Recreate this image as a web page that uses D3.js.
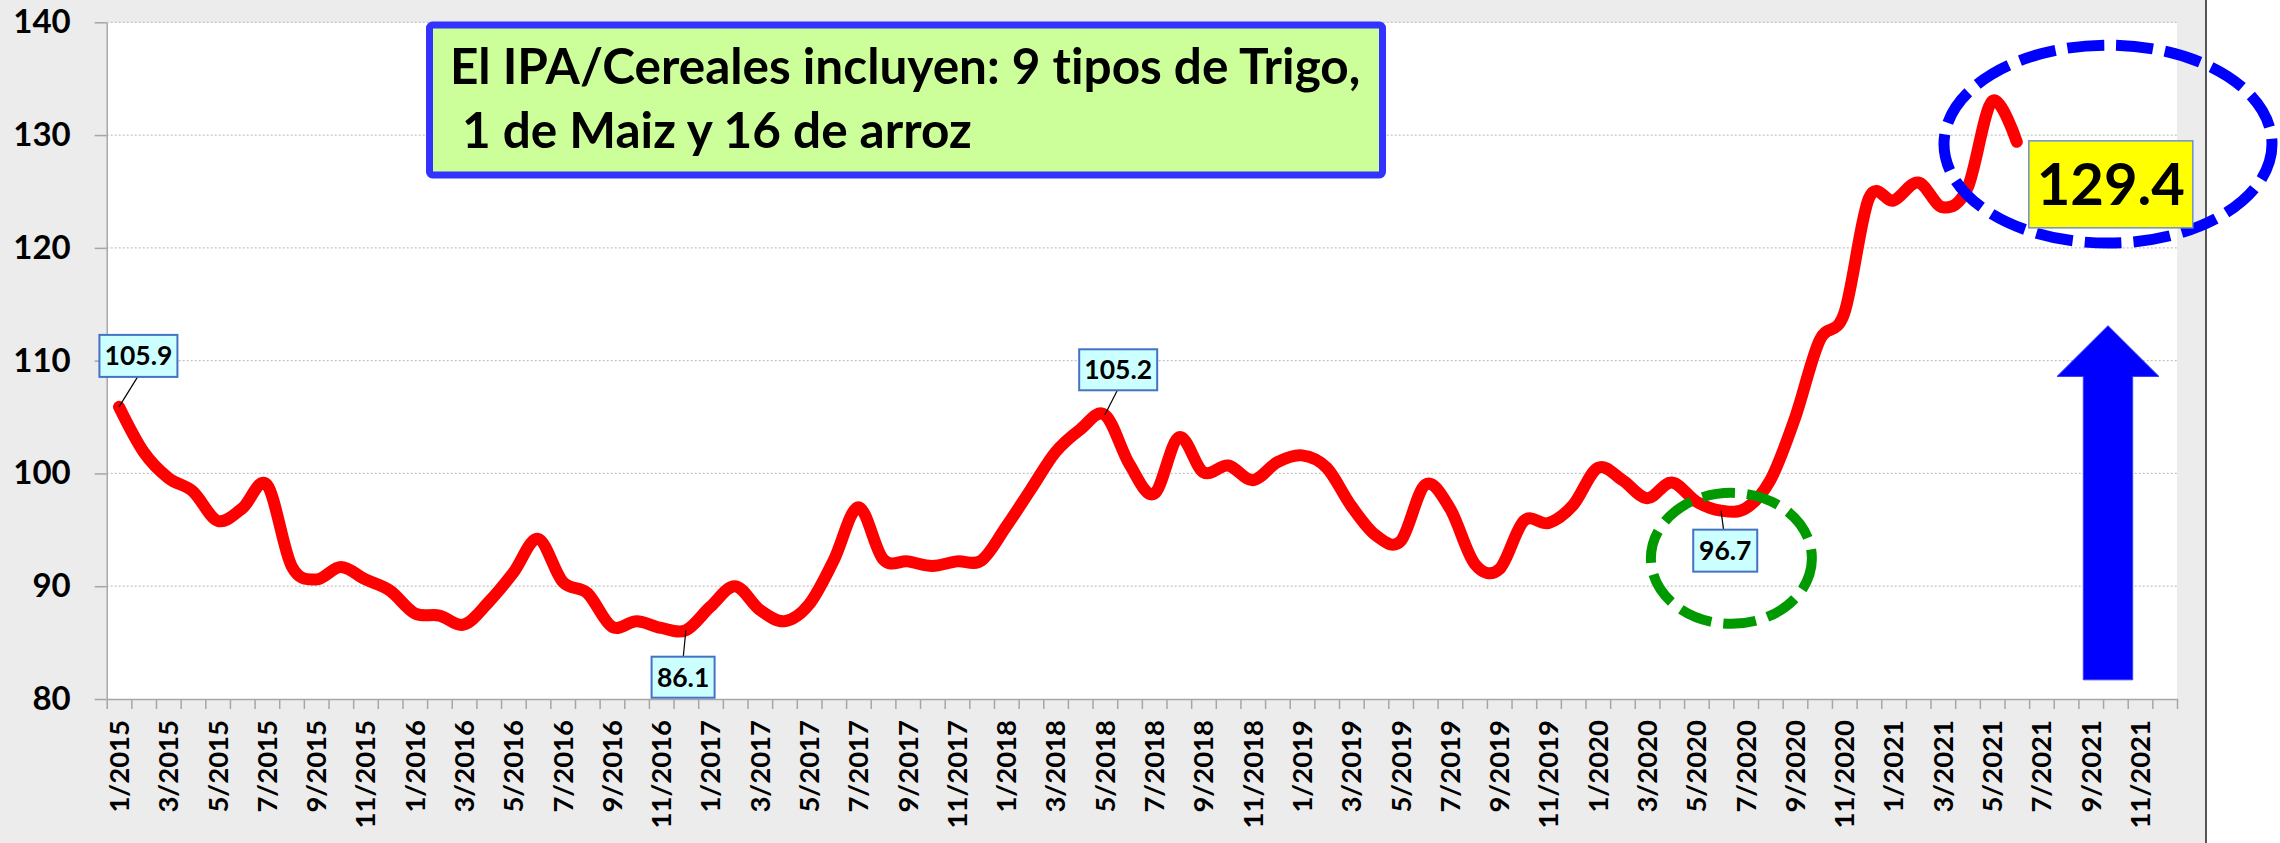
<!DOCTYPE html>
<html lang="es">
<head>
<meta charset="UTF-8">
<title>IPA Cereales</title>
<script src="https://d3js.org/d3.v7.min.js"></script>
<style>
    body {
        margin: 0;
        background: #fff;
    }
    svg {
        display: block;
        font-family: Lato, "Open Sans", sans-serif;
        font-weight: bold;
        font-variant-ligatures: none;
    }
</style>
</head>
<body>
<svg width="2280" height="843"></svg>
<script>
// categories: one per month, 1/2015 .. 12/2021
const months = [
    "1/2015","2/2015","3/2015","4/2015","5/2015","6/2015","7/2015","8/2015","9/2015","10/2015","11/2015","12/2015",
    "1/2016","2/2016","3/2016","4/2016","5/2016","6/2016","7/2016","8/2016","9/2016","10/2016","11/2016","12/2016",
    "1/2017","2/2017","3/2017","4/2017","5/2017","6/2017","7/2017","8/2017","9/2017","10/2017","11/2017","12/2017",
    "1/2018","2/2018","3/2018","4/2018","5/2018","6/2018","7/2018","8/2018","9/2018","10/2018","11/2018","12/2018",
    "1/2019","2/2019","3/2019","4/2019","5/2019","6/2019","7/2019","8/2019","9/2019","10/2019","11/2019","12/2019",
    "1/2020","2/2020","3/2020","4/2020","5/2020","6/2020","7/2020","8/2020","9/2020","10/2020","11/2020","12/2020",
    "1/2021","2/2021","3/2021","4/2021","5/2021","6/2021","7/2021","8/2021","9/2021","10/2021","11/2021","12/2021"
];

// IPA / Cereales, monthly, 1/2015 .. 6/2021
const ipaCereales = [
    105.9, 101.9, 99.6, 98.4, 95.8, 96.9, 99.0, 91.8, 90.6, 91.7, 90.6, 89.6,
    87.6, 87.4, 86.6, 88.6, 91.2, 94.2, 90.4, 89.4, 86.4, 86.9, 86.3, 86.1,
    88.2, 90.0, 87.9, 86.9, 88.4, 92.3, 97.0, 92.4, 92.2, 91.8, 92.2, 92.3,
    95.3, 98.6, 101.9, 103.9, 105.2, 100.8, 98.2, 103.2, 100.1, 100.7, 99.4, 101.0,
    101.6, 100.5, 97.1, 94.5, 94.0, 99.0, 96.9, 92.0, 91.5, 95.8, 95.6, 97.2,
    100.5, 99.4, 97.8, 99.2, 97.5, 96.7, 96.9, 99.4, 104.9, 111.8, 114.2, 124.4,
    124.2, 125.8, 123.6, 125.3, 133.0, 129.4
];

const yTicks = [80, 90, 100, 110, 120, 130, 140];
const tickLabels = months.filter((d, i) => i % 2 === 0);

// months that get a small value callout
const calloutMonths = ["1/2015", "12/2016", "5/2018", "6/2020"];
const lastMonth = "6/2021";

const titleLines = ["El IPA/Cereales incluyen: 9 tipos de Trigo,", " 1 de Maiz y 16 de arroz"];

const svg = d3.select("svg"),
    width = +svg.attr("width"),
    height = +svg.attr("height");

const plot = { left: 106.7, right: 2177, top: 22.3, bottom: 699 };

// page background like the Excel chart area
svg.append("rect")
    .attr("width", 2205).attr("height", height)
    .attr("fill", "#ececec");
svg.append("line")
    .attr("x1", 2206).attr("x2", 2206)
    .attr("y1", 0).attr("y2", height)
    .attr("stroke", "#555").attr("stroke-width", 2);
svg.append("rect")
    .attr("x", plot.left).attr("y", plot.top)
    .attr("width", plot.right - plot.left).attr("height", plot.bottom - plot.top)
    .attr("fill", "#fff");

const y = d3.scaleLinear().domain([80, 140]).range([plot.bottom, plot.top]);
const xBand = d3.scaleBand().domain(months).range([plot.left, plot.right]);
const xIdx = d3.scaleLinear().domain([0, months.length]).range([plot.left, plot.right]);
const xc = m => xBand(m) + xBand.bandwidth() / 2;

// gridlines
svg.append("g")
    .selectAll("line")
    .data(yTicks.filter(d => d > 80))
    .join("line")
    .attr("x1", plot.left).attr("x2", plot.right)
    .attr("y1", d => y(d)).attr("y2", d => y(d))
    .attr("stroke", "#c4c4c4")
    .attr("stroke-width", 1.2)
    .attr("stroke-dasharray", "2,2");

// y axis
const gy = svg.append("g")
    .attr("transform", `translate(${plot.left},0)`)
    .call(d3.axisLeft(y).tickValues(yTicks).tickSize(12).tickPadding(24).tickSizeOuter(0));
gy.select(".domain").attr("stroke", "#a6a6a6").attr("stroke-width", 1.5);
gy.selectAll(".tick line").attr("stroke", "#a6a6a6").attr("stroke-width", 1.5);
gy.selectAll("text")
    .attr("font-size", 33)
    .attr("font-family", "Lato, sans-serif")
    .attr("font-weight", "bold")
    .attr("fill", "#000");

// x axis tick marks between categories
const gxt = svg.append("g")
    .attr("transform", `translate(0,${plot.bottom})`)
    .call(d3.axisBottom(xIdx).tickValues(d3.range(months.length + 1)).tickFormat("").tickSize(10).tickSizeOuter(0));
gxt.select(".domain").attr("stroke", "#a6a6a6").attr("stroke-width", 1.5);
gxt.selectAll(".tick line").attr("stroke", "#a6a6a6").attr("stroke-width", 1.5);

// x labels, every other month, rotated
const gx = svg.append("g")
    .attr("transform", `translate(0,${plot.bottom})`)
    .call(d3.axisBottom(xBand).tickValues(tickLabels).tickSize(0));
gx.select(".domain").remove();
gx.selectAll("text")
    .attr("transform", "rotate(-90)")
    .attr("x", -21)
    .attr("y", 0)
    .attr("dy", "0.36em")
    .style("text-anchor", "end")
    .attr("font-size", 27.5)
    .attr("font-family", "Lato, sans-serif")
    .attr("font-weight", "bold")
    .attr("fill", "#000");

// the series
const series = ipaCereales.map((v, i) => ({ month: months[i], value: v }));

const line = d3.line()
    .x(d => xc(d.month))
    .y(d => y(d.value))
    .curve(d3.curveCatmullRom.alpha(0));

svg.append("path")
    .datum(series)
    .attr("d", line)
    .attr("fill", "none")
    .attr("stroke", "#ff0000")
    .attr("stroke-width", 12)
    .attr("stroke-linecap", "round")
    .attr("stroke-linejoin", "round");

// callouts: box offset from the point (dx, dy of box centre), box size
const calloutLayout = {
    "1/2015":  { dx: 19.4, dy: -51, w: 78, h: 42, lx: 18.6, ly: -30 },
    "12/2016": { dx: -2.8, dy: 47, w: 63, h: 41, lx: -2.6, ly: 26.5 },
    "5/2018":  { dx: 13.3, dy: -45, w: 78, h: 41, lx: 12.5, ly: -24.5 },
    "6/2020":  { dx: 4.2, dy: 40, w: 64, h: 42, lx: 2.5, ly: 19 }
};

const fmt = d3.format(".1f");

calloutMonths.forEach(m => {
    const d = series.find(s => s.month === m);
    const L = calloutLayout[m];
    const px = xc(m), py = y(d.value);
    svg.append("line")
        .attr("x1", px).attr("y1", py)
        .attr("x2", px + L.lx).attr("y2", py + L.ly)
        .attr("stroke", "#000").attr("stroke-width", 1.2);
    svg.append("rect")
        .attr("x", px + L.dx - L.w / 2).attr("y", py + L.dy - L.h / 2)
        .attr("width", L.w).attr("height", L.h)
        .attr("fill", "#ccffff")
        .attr("stroke", "#4472c4")
        .attr("stroke-width", 2);
    svg.append("text")
        .attr("x", px + L.dx).attr("y", py + L.dy)
        .attr("dy", "0.36em")
        .attr("text-anchor", "middle")
        .attr("font-size", 26.5)
        .text(fmt(d.value));
});

// green dashed ring around the mid-2020 low
svg.append("ellipse")
    .attr("cx", xIdx(65.92)).attr("cy", y(92.47))
    .attr("rx", 80.5).attr("ry", 65.5)
    .attr("fill", "none")
    .attr("stroke", "#009900")
    .attr("stroke-width", 10)
    .attr("stroke-dasharray", "33,12");

// blue dashed ring around the latest values
svg.append("ellipse")
    .attr("cx", xIdx(81.2)).attr("cy", y(129.2))
    .attr("rx", 164).attr("ry", 99)
    .attr("fill", "none")
    .attr("stroke", "#0000ff")
    .attr("stroke-width", 11)
    .attr("stroke-dasharray", "37,12");

// big yellow label for the last value
const last = series.find(s => s.month === lastMonth);
const bigX = xc(lastMonth) + 94, bigY = y(last.value) + 42.5;
svg.append("rect")
    .attr("x", bigX - 82).attr("y", bigY - 43.5)
    .attr("width", 164).attr("height", 87)
    .attr("fill", "#ffff00")
    .attr("stroke", "#6f8fcf")
    .attr("stroke-width", 1.5);
svg.append("text")
    .attr("x", bigX).attr("y", bigY)
    .attr("dy", "0.36em")
    .attr("text-anchor", "middle")
    .attr("font-size", 58)
    .text(fmt(last.value));

// blue up arrow
const ax = xIdx(81.2);
const tipY = y(113.1), headY = y(108.6), baseY = y(81.7);
const arrow = d3.path();
arrow.moveTo(ax, tipY);
arrow.lineTo(ax + 51, headY);
arrow.lineTo(ax + 24.7, headY);
arrow.lineTo(ax + 24.7, baseY);
arrow.lineTo(ax - 24.7, baseY);
arrow.lineTo(ax - 24.7, headY);
arrow.lineTo(ax - 51, headY);
arrow.closePath();
svg.append("path")
    .attr("d", arrow.toString())
    .attr("fill", "#0000ff")
    .attr("stroke", "#3b3bff")
    .attr("stroke-width", 1);

// note box
const note = svg.append("g");
note.append("rect")
    .attr("x", 429.5).attr("y", 25)
    .attr("width", 953).attr("height", 150)
    .attr("rx", 3)
    .attr("fill", "#ccff99")
    .attr("stroke", "#3333ff")
    .attr("stroke-width", 7);
note.selectAll("text")
    .data(titleLines)
    .join("text")
    .attr("x", 450)
    .attr("y", (d, i) => 84 + i * 64)
    .attr("font-size", 49.5)
    .attr("xml:space", "preserve")
    .style("white-space", "pre")
    .text(d => d);
</script>
</body>
</html>
